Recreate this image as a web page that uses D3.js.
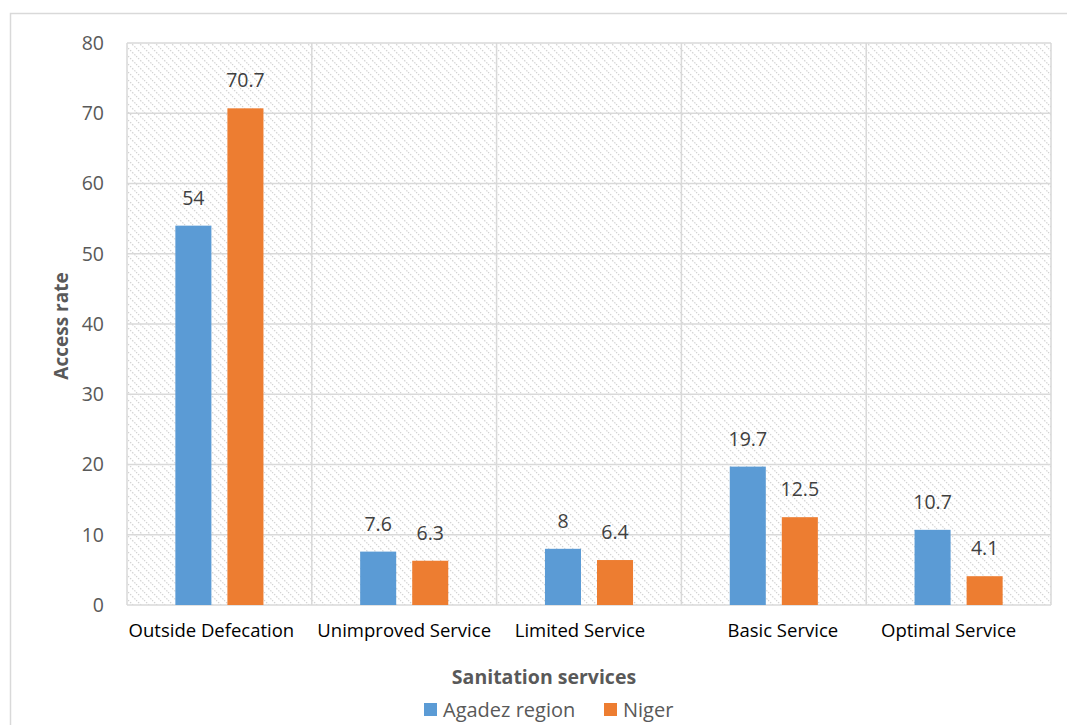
<!DOCTYPE html>
<html>
<head>
<meta charset="utf-8">
<script src="https://cdn.jsdelivr.net/npm/d3@7"></script>
<style>
  html, body { margin: 0; padding: 0; background: #fff; }
  svg { display: block; }
</style>
</head>
<body>
<svg id="chart" width="1067" height="725"></svg>
<script>
// Sanitation service access rates (%)
const categories = ["Outside Defecation", "Unimproved Service", "Limited Service", "Basic Service", "Optimal Service"];
const seriesNames = ["Agadez region", "Niger"];
const agadezValues = [54, 7.6, 8, 19.7, 10.7];
const nigerValues = [70.7, 6.3, 6.4, 12.5, 4.1];
const yTicks = [0, 10, 20, 30, 40, 50, 60, 70, 80];
const seriesColors = ["#5b9bd5", "#ed7d31"];

const seriesValues = [agadezValues, nigerValues];
const FONT = "'Open Sans', 'Liberation Sans', sans-serif";
// small horizontal nudges for the category labels
const labelNudge = [-8, 0, -9, 9, -10];

const svg = d3.select("#chart");
const margin = { left: 127, right: 1051, top: 43, bottom: 605 };

// chart frame
svg.append("rect")
  .attr("x", 10.5).attr("y", 13.5)
  .attr("width", 1070).attr("height", 730)
  .attr("fill", "#fff").attr("stroke", "#d9d9d9").attr("stroke-width", 1.5);

// dotted diagonal hatch for the plot area
const defs = svg.append("defs");
const pat = defs.append("pattern")
  .attr("id", "hatch").attr("patternUnits", "userSpaceOnUse")
  .attr("width", 8).attr("height", 8);
pat.append("rect").attr("width", 8).attr("height", 8).attr("fill", "#fff");
pat.append("path")
  .attr("d", "M0,0 L8,8 M-4,4 L4,12 M4,-4 L12,4")
  .attr("stroke", "#d2d2d2").attr("stroke-width", 1.2)
  .attr("stroke-dasharray", "1.5,1.5");

const x0 = d3.scaleBand().domain(categories)
  .range([margin.left, margin.right]).paddingInner(0).paddingOuter(0);
const x1 = d3.scaleBand().domain(seriesNames)
  .range([0, x0.bandwidth()]).paddingInner(0.3077).paddingOuter(0.929);
const y = d3.scaleLinear().domain([0, 80]).range([margin.bottom, margin.top]);

svg.append("rect")
  .attr("x", margin.left).attr("y", margin.top)
  .attr("width", margin.right - margin.left).attr("height", margin.bottom - margin.top)
  .attr("fill", "url(#hatch)");

// horizontal gridlines
svg.append("g").selectAll("line").data(yTicks).join("line")
  .attr("x1", margin.left).attr("x2", margin.right)
  .attr("y1", d => y(d)).attr("y2", d => y(d))
  .attr("stroke", "#d9d9d9").attr("stroke-width", 1.5);

// vertical gridlines at category boundaries
const bounds = categories.map(c => x0(c)).concat([margin.right]);
svg.append("g").selectAll("line").data(bounds).join("line")
  .attr("x1", d => d).attr("x2", d => d)
  .attr("y1", margin.top).attr("y2", margin.bottom)
  .attr("stroke", "#d9d9d9").attr("stroke-width", 1.5);

// y axis labels
const yAxis = d3.axisLeft(y).tickValues(yTicks).tickSize(0).tickPadding(23);
const yg = svg.append("g").attr("transform", `translate(${margin.left},0)`).call(yAxis);
yg.select(".domain").remove();
yg.selectAll("text").attr("font-family", FONT).attr("font-size", 19.5).attr("fill", "#595959");

// x axis labels
const xAxis = d3.axisBottom(x0).tickSize(0).tickPadding(19);
const xg = svg.append("g").attr("transform", `translate(0,${margin.bottom})`).call(xAxis);
xg.select(".domain").remove();
xg.selectAll("text")
  .attr("dx", (d, i) => labelNudge[i])
  .attr("font-family", FONT).attr("font-size", 18.5).attr("fill", "#000");

// bars and value labels
const groups = svg.append("g").selectAll("g").data(categories).join("g")
  .attr("transform", d => `translate(${x0(d)},0)`);
seriesNames.forEach((s, si) => {
  groups.append("rect")
    .attr("x", x1(s)).attr("width", x1.bandwidth())
    .attr("y", (d, i) => y(seriesValues[si][i]))
    .attr("height", (d, i) => y(0) - y(seriesValues[si][i]))
    .attr("fill", seriesColors[si]);
  groups.append("text")
    .attr("x", x1(s) + x1.bandwidth() / 2)
    .attr("y", (d, i) => y(seriesValues[si][i]) - 21)
    .attr("text-anchor", "middle")
    .attr("font-family", FONT).attr("font-size", 19.5).attr("fill", "#404040")
    .text((d, i) => seriesValues[si][i]);
});

// axis titles
svg.append("text")
  .attr("x", 544).attr("y", 684)
  .attr("text-anchor", "middle")
  .attr("font-family", FONT).attr("font-size", 19.5).attr("font-weight", "bold").attr("fill", "#595959")
  .text("Sanitation services");
svg.append("text")
  .attr("transform", `translate(68,326) rotate(-90)`)
  .attr("text-anchor", "middle")
  .attr("font-family", FONT).attr("font-size", 19).attr("font-weight", "bold").attr("fill", "#595959")
  .text("Access rate");

// legend
const legend = svg.append("g");
const legendX = [424, 604];
seriesNames.forEach((s, i) => {
  legend.append("rect")
    .attr("x", legendX[i]).attr("y", 703).attr("width", 13).attr("height", 13)
    .attr("fill", seriesColors[i]);
  legend.append("text")
    .attr("x", legendX[i] + 19).attr("y", 717)
    .attr("font-family", FONT).attr("font-size", 20).attr("fill", "#595959")
    .text(s);
});
</script>
</body>
</html>
